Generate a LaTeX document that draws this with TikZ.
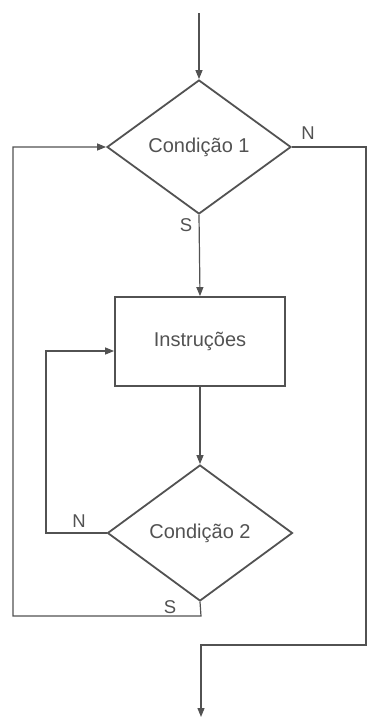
\documentclass[tikz,border=0pt]{standalone}
\usepackage{fontspec}
\setmainfont{Liberation Sans}
\usetikzlibrary{shapes.geometric,arrows.meta}
\begin{document}
\begin{tikzpicture}[x=1pt,y=-1pt,
  ink/.style={draw=black!68},
  dec/.style={diamond,ink,line width=1.8pt,inner sep=0pt,text=black!68,font=\fontsize{20}{24}\selectfont},
  blk/.style={rectangle,ink,line width=1.8pt,inner sep=0pt,text=black!68,font=\fontsize{20}{24}\selectfont},
  conn/.style={ink,line width=1.2pt},
  arr/.style={conn,-{Triangle[length=9pt,width=7pt]}},
  lbl/.style={text=black!68,font=\fontsize{18.5}{22}\selectfont,inner sep=0pt}]
\useasboundingbox (0,0) rectangle (367,720);
\coordinate (start) at (199,13);
\node[dec,minimum width=184pt,minimum height=134pt] (c1) at (199,147) {Condição 1};
\node[blk,minimum width=170pt,minimum height=89pt] (box) at (200,341.5) {Instruções};
\node[dec,minimum width=185pt,minimum height=136pt] (c2) at (200,533) {Condição 2};
\coordinate (nl) at (46,533);
\coordinate (sb) at (201,616);
\coordinate (sl) at (13,616);
\coordinate (nr) at (366,147);
\coordinate (nb) at (366,645);
\coordinate (ob) at (201,645);
\coordinate (end) at (201,717);
\draw[arr] (start) -- (c1.north);
\draw[arr] (c1.south) -- (box.north);
\draw[arr] (box.south) -- (c2.north);
\draw[arr] (c2.west) -- (nl) |- ([yshift=-9.5pt]box.west);
\draw[arr] (c2.south) -- (sb) -- (sl) |- (c1.west);
\draw[arr] (c1.east) -- (nr) -- (nb) -- (ob) -- (end);
\node[lbl] (ln1) at (308,133) {N};
\node[lbl] (ls1) at (186,225) {S};
\node[lbl] (ln2) at (79,521) {N};
\node[lbl] (ls2) at (170,607) {S};
\end{tikzpicture}
\end{document}
